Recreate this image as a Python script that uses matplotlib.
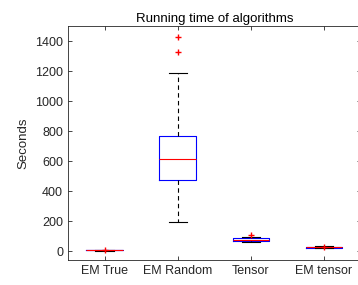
import matplotlib
matplotlib.use("Agg")
import matplotlib.pyplot as plt

plt.rcParams['font.family'] = ['Liberation Sans', 'DejaVu Sans']

labels = ["EM True", "EM Random", "Tensor", "EM tensor"]
whislo = [2, 195, 62, 18]
q1 = [4, 473, 70, 21]
med = [6, 613, 76, 24]
q3 = [8, 767, 84, 27]
whishi = [10, 1190, 95, 31]
fliers = [[9], [1330, 1428], [104], [28]]
yticks = [0, 200, 400, 600, 800, 1000, 1200, 1400]

stats = []
for i in range(len(labels)):
    stats.append(dict(label=labels[i], whislo=whislo[i], q1=q1[i], med=med[i],
                      q3=q3[i], whishi=whishi[i], fliers=fliers[i]))

fig = plt.figure(figsize=(3.58, 2.85), dpi=100)
ax = fig.add_axes([68/358, 1-260/285, (360.5-68)/358, (260-26)/285])

ax.bxp(stats, positions=[1, 2, 3, 4], widths=0.5, showfliers=True,
       boxprops=dict(color='blue', linewidth=0.8),
       medianprops=dict(color='red', linewidth=0.8),
       whiskerprops=dict(color='black', linestyle=(0, (4, 3)), linewidth=0.8),
       capprops=dict(color='black', linewidth=0.8),
       flierprops=dict(marker='+', markeredgecolor='red', markersize=4, linestyle='none'),
       capwidths=0.25)

ax.set_xlim(0.5, 4.5)
ax.set_ylim(-60, 1500)
ax.set_yticks(yticks)
ax.set_xticks([1, 2, 3, 4])
ax.set_xticklabels(labels)
ax.tick_params(direction='in', length=3, top=True, right=True, labelsize=9,
               colors='#262626', width=0.6)
for s in ax.spines.values():
    s.set_color('#262626')
    s.set_linewidth(0.6)
ax.set_ylabel("Seconds", fontsize=9.5, color='#262626')
ax.set_title("Running time of algorithms", fontsize=9.5, color='black', pad=3)

fig.savefig("out.png", dpi=100)
